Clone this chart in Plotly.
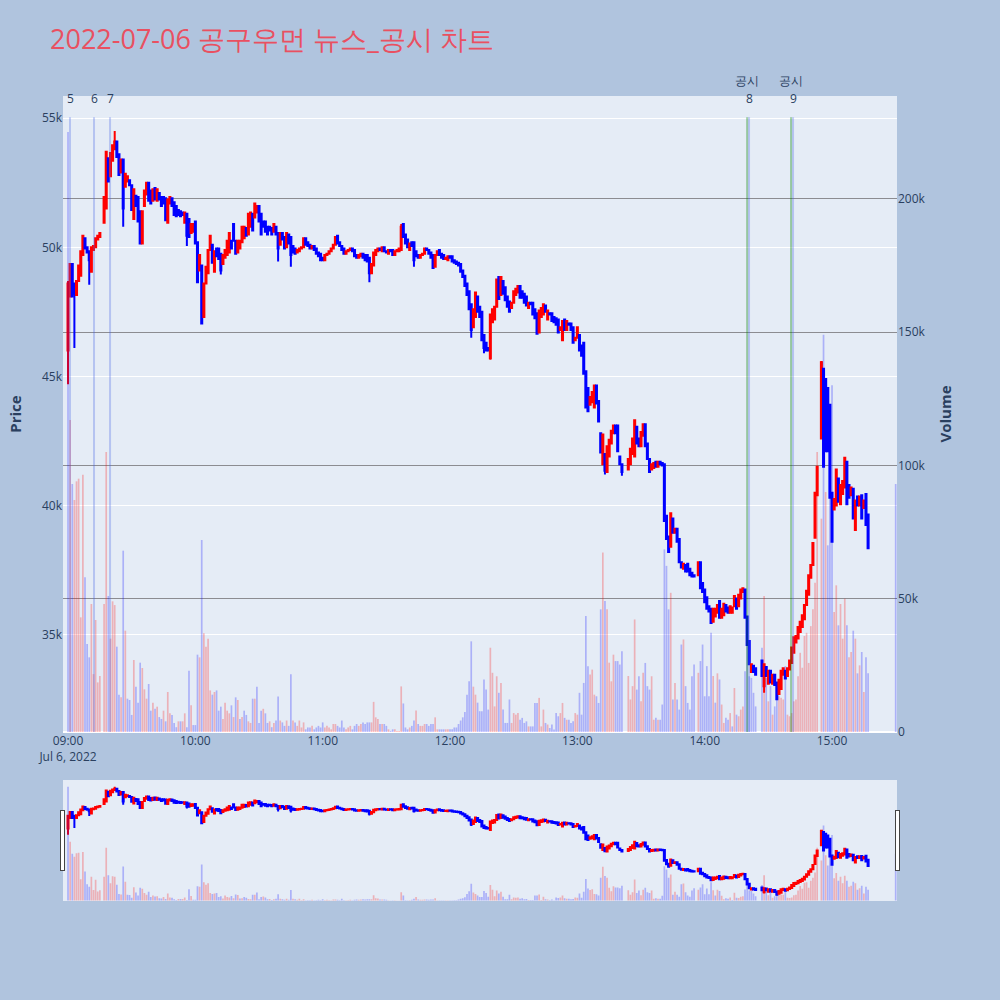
import pandas as pd
import plotly.graph_objects as go

title_text = "2022-07-06 공구우먼 뉴스_공시 차트"
session_start = "2022-07-06 09:00"

# one entry per minute from 09:00; None = no trading (VI halt)
opens = [
    46000, 48100, 49350, 48600, 48150, 48700, 48900, 49700, 50350, 50000,
    49850, 49050, 49900, 50000, 50300, 50400, None, 50950, 51500, 53450,
    52750, 53350, 53800, 54100, 53600, 52900, 53400, 52350, 52550, 52600,
    52400, 51100, 52000, 51950, 51400, 50150, 51600, 52050, 52500, 52200,
    51800, 52300, 51800, 52100, 51950, 51950, 51900, 50950, 51700, 51900,
    51750, 51600, 51450, 51400, 51350, 50950, 51300, 51100, 50550, 50600,
    51000, 50200, 49100, 49300, 47300, 48600, 49000, 49900, 50100, 49050,
    49950, 49950, 49750, 49350, 49600, 49700, 49800, 50250, 50900, 50250,
    49800, 49950, 50200, 50350, 50750, 50500, 50800, 51300, 51150, 51350,
    51600, 51300, 51000, 51000, 50800, 50800, 50750, 50600, 50800, 50550,
    50100, 50550, 50400, 50000, 50500, 50400, 50050, 49950, 49800, 49850,
    49950, 50000, 50350, 50200, 50100, 49950, 50050, 49950, 49800, 49750,
    49600, 49500, 49700, 49750, 49850, 49950, 50100, 50450, 50200, 50050,
    49950, 49750, 49850, 49900, 49950, 49900, 49700, 49600, 49650, 49750,
    49700, 49700, 49600, 49000, 49300, 49700, 49850, 49950, 49850, 50000,
    49850, 49750, 49900, 49900, 49700, 49850, 49850, 49900, 50900, 50500,
    50300, 49900, 50200, 50200, 49850, 49700, 49600, 49700, 49750, 49950,
    49900, 49800, 49700, 49250, 49700, 49900, 49750, 49700, 49550, 49500,
    49650, 49650, 49500, 49450, 49400, 49350, 49100, 48900, 48600, 48300,
    47800, 46900, 47300, 48100, 47700, 47500, 46600, 46300, 46100, 45700,
    47100, 47200, 47700, 48850, 48150, 48700, 48450, 48100, 47900, 47650,
    47850, 48150, 48250, 48500, 48300, 48200, 48100, 47650, 47850, 47850,
    47600, 47450, 46700, 47300, 47400, 47750, 47200, 47450, 47450, 47300,
    47250, 47200, 46800, 46400, 47200, 46800, 47050, 47050, 46900, 46400,
    46500, 46600, 46200, 46300, 45200, 44550, 43900, 44000, 43800, 44650,
    44050, 42800, 41600, 42000, 41300, 41900, 42400, 42800, 43100, 43100,
    41900, 41600, None, None, 41400, 41600, 42000, 41900, 43050, 42600,
    42300, 42700, 43150, 42400, 41800, 41400, 41450, 41700, 41500, 41700,
    41650, 41600, 39600, 38800, 38400, 39500, 38950, 39100, 38700, 37800,
    37550, 37700, 37750, 37550, 37400, 37300, None, 37300, 37800, 37000,
    36750, 36450, 36100, 36000, 35500, 35700, 35850, 36300, 35650, 35750,
    36150, 36050, 35850, 35850, 36100, 36400, 36100, 36400, 36650, 36750,
    35700, 34750, 33550, 33800, 33700, None, None, 34000, 33000, 33750,
    33100, 33600, 33100, 33450, 33150, 32700, 32900, 33450, 33600, 33400,
    33650, 33900, 34300, 34700, 34850, 35100, 35300, 35600, 36150, 36550,
    37200, 37700, 38750, 40400, None, 42600, 45300, 44900, 44550, 43900,
    40500, 39850, 40000, 41050, 40050, 40450, 40700, 41700, 40800, 40400,
    40650, 39050, 40350, 40000, 40400, 39900, 40450, 39650,
]

closes = [
    48600, 49350, 48100, 48200, 48700, 49300, 49850, 50450, 49950, 49800,
    49500, 50000, 50050, 50350, 50450, 50550, None, 51950, 53700, 52550,
    53650, 53950, 54100, 53500, 52800, 53400, 51500, 52850, 52750, 52400,
    51450, 52250, 51600, 51000, 50150, 51400, 52200, 52500, 51800, 51700,
    52250, 51850, 52250, 51850, 51600, 51700, 51050, 51850, 51950, 51600,
    51250, 51200, 51250, 51200, 51250, 51350, 50450, 50400, 50900, 50900,
    50150, 48650, 49700, 47050, 48600, 49250, 49900, 50450, 49400, 49850,
    49650, 49550, 49100, 49700, 49900, 50250, 50550, 49950, 50250, 49750,
    50250, 50250, 50800, 50800, 50450, 51300, 51350, 50650, 51700, 51600,
    51000, 50500, 50800, 50600, 50500, 50650, 50500, 50900, 50500, 49950,
    50550, 50300, 49950, 50550, 50150, 49700, 49800, 49750, 49900, 49950,
    50000, 50350, 50100, 50050, 49950, 50050, 49900, 49750, 49650, 49500,
    49500, 49700, 49750, 49850, 49950, 50100, 50400, 50150, 50050, 49900,
    49750, 49850, 49900, 49950, 49850, 49650, 49600, 49700, 49750, 49600,
    49500, 49450, 49000, 49350, 49800, 49900, 49950, 49900, 50000, 49850,
    49800, 49900, 49850, 49700, 49850, 49900, 49950, 50800, 50400, 50150,
    50000, 50150, 50050, 49500, 49650, 49600, 49700, 49750, 49950, 49900,
    49750, 49600, 49200, 49700, 49850, 49700, 49600, 49550, 49600, 49650,
    49600, 49450, 49400, 49350, 49300, 49050, 48850, 48500, 48150, 47600,
    46800, 47600, 48250, 47500, 47300, 46400, 46100, 46000, 46000, 47400,
    47600, 47700, 48750, 48000, 48850, 48200, 47950, 47700, 47500, 47850,
    48300, 48400, 48500, 48050, 48050, 47850, 47750, 47850, 47800, 47400,
    47250, 46650, 47550, 47650, 47800, 47500, 47550, 47400, 47150, 47100,
    47000, 46700, 46900, 47150, 46800, 47150, 47000, 46800, 46300, 46500,
    46900, 46000, 45800, 45100, 43800, 43650, 44200, 44400, 44650, 43950,
    43250, 42050, 42750, 41350, 42300, 42550, 42900, 43100, 42800, 42100,
    41600, 41300, None, None, 41800, 42200, 42600, 43300, 42400, 42300,
    42850, 43150, 42300, 41800, 41300, 41600, 41650, 41500, 41700, 41600,
    41550, 39400, 38700, 38200, 39700, 38950, 39100, 38600, 37800, 37600,
    37750, 37450, 37450, 37300, 37250, 37250, None, 37800, 36800, 36650,
    36250, 36000, 35900, 35450, 36000, 36000, 36150, 35650, 36000, 36200,
    35900, 35850, 36100, 36050, 36500, 36000, 36550, 36750, 36800, 35650,
    34600, 33850, 33850, 33550, 33450, None, None, 33400, 33850, 33400,
    33600, 33150, 33450, 33050, 32500, 33250, 33600, 33700, 33300, 33700,
    34000, 34500, 34900, 34950, 35300, 35500, 35750, 36150, 36700, 37300,
    37700, 38550, 40500, 41500, None, 45550, 41500, 42100, 42100, 40300,
    38600, 40250, 41400, 40150, 40800, 40950, 41850, 40050, 40300, 40700,
    39500, 40200, 40000, 40350, 39500, 40200, 39250, 38350,
]

volumes = [
    225000, 117000, 93000, 87000, 94000, 95000, 43000, 96500, 58000, 33000,
    28000, 48000, 21700, 42000, 18600, 21000, None, 48000, 105000, 51000,
    35000, 49000, 47600, 32000, 14000, 13000, 68000, 38000, 12500, 12000,
    6400, 27000, 17000, 11000, 26000, 24000, 16000, 12500, 18000, 8000,
    11000, 8700, 9500, 5600, 4900, 8000, 4000, 15000, 7000, 6400,
    3400, 1800, 4000, 4000, 4000, 7000, 1800, 23000, 10000, 2600,
    2600, 29000, 28000, 72000, 37000, 32000, 35000, 15600, 14000, 15000,
    15600, 8000, 9500, 4900, 11000, 8000, 7000, 10000, 5600, 13000,
    12000, 4900, 5600, 8000, 6400, 4000, 3400, 12500, 12500, 17000,
    3400, 8000, 8700, 7000, 3400, 4000, 1800, 3400, 4300, 13300,
    4300, 3600, 2300, 4300, 2300, 21700, 4300, 3600, 2300, 4300,
    1700, 3600, 1000, 1700, 1700, 2300, 1000, 1700, 2300, 1700,
    3600, 1700, 2300, 1700, 1000, 3000, 3000, 2300, 1700, 4300,
    1700, 1000, 1700, 2300, 1000, 2300, 3000, 2300, 3000, 3600,
    3000, 3600, 3600, 3600, 11300, 5500, 4900, 3000, 3000, 3000,
    2300, 1000, 400, 1000, 1000, 400, 400, 17100, 10700, 1700,
    1000, 1700, 2300, 4300, 8100, 3000, 2300, 2300, 3000, 3000,
    2300, 3000, 3000, 5500, 1000, 1000, 1000, 1000, 1000, 1000,
    1000, 1000, 1700, 1700, 3000, 4300, 5500, 7500, 14000, 19000,
    34000, 17000, 14000, 11000, 7800, 7800, 19700, 15900, 8400, 31600,
    22200, 9600, 20900, 14700, 18400, 8400, 3400, 3400, 12200, 3400,
    7100, 6500, 7100, 4600, 5300, 3400, 4000, 2100, 2100, 2100,
    10900, 10900, 12800, 2100, 8400, 3400, 2800, 1500, 2800, 900,
    7100, 5900, 7100, 10900, 5300, 4600, 4600, 3400, 4000, 7100,
    6500, 14700, 6500, 18400, 43500, 24700, 21600, 23400, 14000, 13400,
    10900, 46000, 67300, 49100, 46000, 26000, 19000, 29000, 26600, 26600,
    25300, 30300, None, None, 21000, 12200, 17200, 42200, 15900, 20900,
    11500, 22200, 25900, 17200, 15900, 20900, 4600, 5300, 4600, 4600,
    10300, 68500, 62300, 46000, 52200, 12200, 18400, 12200, 8400, 32800,
    34700, 17200, 10900, 8400, 20900, 25300, None, 22200, 26600, 32800,
    13400, 24700, 13400, 37200, 21000, 11000, 22000, 19700, 10300, 3400,
    5300, 4600, 7100, 2100, 16500, 6500, 5900, 8400, 9600, 22800,
    33500, 20900, 20300, 14700, 9600, None, None, 31600, 51000, 20300,
    11500, 17200, 6500, 9600, 17200, 13400, 12800, 12200, 24700, 6500,
    5900, 7100, 11500, 12200, 20900, 29700, 24100, 36000, 37200, 25900,
    39700, 46000, 56000, 105000, None, 80000, 149000, 90000, 70000, 100000,
    130000, 45000, 55000, 40000, 48000, 35000, 50000, 40000, 28000, 30000,
    38000, 35000, 22000, 25000, 30000, 15000, 28000, 22000,
]

# minutes (index from 09:00) whose wick reaches beyond the body
wick_high = {0: 48700, 22: 54500, 157: 50900, 355: 45600}
wick_low = {0: 44700, 3: 46100, 10: 48550, 26: 50800, 56: 50050, 72: 48950,
            99: 49450, 105: 49250, 142: 48650, 163: 49250, 190: 46500,
            196: 45900, 199: 45650, 253: 41200, 261: 41150, 328: 32750}

closing_auction_time = "2022-07-06 15:30"
closing_auction_volume = 93000

news_times = ["2022-07-06 09:00:56", "2022-07-06 09:12:15", "2022-07-06 09:19:48",
              "2022-07-06 14:20:54", "2022-07-06 14:41:38"]
news_labels = ["5", "6", "7", "8", "9"]
disclosure_times = ["2022-07-06 14:20:00", "2022-07-06 14:40:42"]
disclosure_label = "공시"

price_range = [31230, 55860]
volume_range = [0, 238500]
line_top = 55040
x_range = ["2022-07-06 08:57:38", "2022-07-06 15:30:37"]

assert len(opens) == len(closes) == len(volumes)

slots = pd.date_range(session_start, periods=len(closes), freq="min")
keep = [i for i, c in enumerate(closes) if c is not None]
t = [slots[i] for i in keep]
o = [opens[i] for i in keep]
c = [closes[i] for i in keep]
h = [wick_high.get(i, max(opens[i], closes[i])) for i in keep]
lo = [wick_low.get(i, min(opens[i], closes[i])) for i in keep]
v = [volumes[i] for i in keep]

RED_BAR = "rgba(255,0,0,0.25)"
BLUE_BAR = "rgba(0,0,255,0.25)"
bar_colors = [RED_BAR if k > 0 and c[k] > c[k - 1] else BLUE_BAR for k in range(len(c))]

fig = go.Figure()
fig.add_trace(go.Bar(
    x=t + [pd.Timestamp(closing_auction_time)], y=v + [closing_auction_volume],
    marker=dict(color=bar_colors + [BLUE_BAR], line=dict(width=0)),
    yaxis="y2", name="Volume", showlegend=False,
))
fig.add_trace(go.Candlestick(
    x=t, open=o, high=h, low=lo, close=c,
    increasing=dict(line=dict(color="red", width=2), fillcolor="red"),
    decreasing=dict(line=dict(color="blue", width=2), fillcolor="blue"),
    name="Price", showlegend=False, yaxis="y",
))

for tt in disclosure_times:
    fig.add_shape(type="line", xref="x", yref="y", x0=tt, x1=tt,
                  y0=price_range[0], y1=line_top,
                  line=dict(color="rgba(0,128,0,0.35)", width=2))
    fig.add_annotation(x=tt, xref="x", y=1, yref="paper", yanchor="middle", yshift=16,
                       text=disclosure_label, showarrow=False,
                       font=dict(size=12, color="#2a3f5f"))
for tt, lab in zip(news_times, news_labels):
    fig.add_shape(type="line", xref="x", yref="y", x0=tt, x1=tt,
                  y0=price_range[0], y1=line_top,
                  line=dict(color="rgba(70,100,230,0.3)", width=2))
    fig.add_annotation(x=tt, xref="x", y=1, yref="paper", yanchor="middle", yshift=-2,
                       text=lab, showarrow=False,
                       font=dict(size=12, color="#2a3f5f"))

fig.update_layout(
    template="plotly",
    width=1000, height=1000,
    paper_bgcolor="#B0C4DE",
    plot_bgcolor="#E5ECF6",
    margin=dict(l=63, r=103, t=96, b=100),
    title=dict(text=title_text, x=0.05, xanchor="left", y=0.96, yanchor="middle",
               font=dict(size=27, color="rgb(233,80,97)")),
    showlegend=False,
    bargap=0.2,
    xaxis=dict(type="date", range=x_range, showgrid=False,
               rangeslider=dict(visible=True, thickness=0.15, bgcolor="#E5ECF6",
                                range=x_range)),
    yaxis=dict(title=dict(text="<b>Price</b>", font=dict(size=15), standoff=16),
               range=price_range, gridcolor="white", zeroline=False),
    yaxis2=dict(title=dict(text="<b>Volume</b>", font=dict(size=15)), overlaying="y",
                side="right", range=volume_range, showgrid=True,
                gridcolor="rgb(140,140,145)", gridwidth=1),
)

fig.write_html("out.html", config={"displayModeBar": False},
               post_script="document.body.style.margin='0';")
